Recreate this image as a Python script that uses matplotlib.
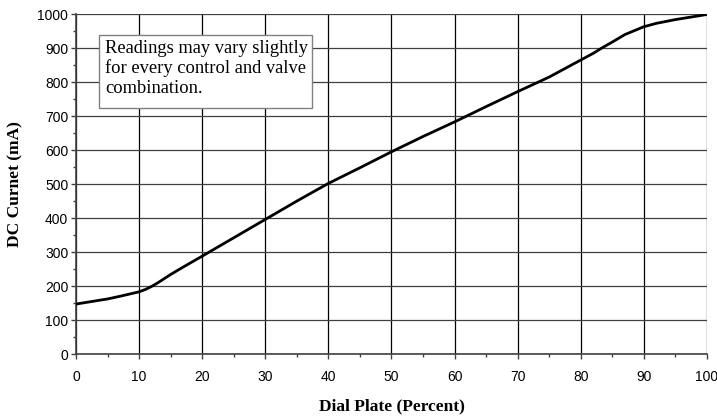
import numpy as np
import matplotlib.pyplot as plt
from matplotlib.patches import Rectangle
from matplotlib.ticker import MultipleLocator

# Dial plate percent vs DC current
dial_pct = [0, 2, 5, 7, 10, 11, 12, 13, 14, 15, 17, 20, 25, 30, 35, 40,
            45, 50, 55, 60, 65, 70, 75, 78, 80, 82, 83.3, 85, 87, 90, 92,
            95, 98, 100]
current_ma = [147, 153, 162, 170, 183, 190, 199, 210, 222, 234, 256, 288,
              342, 396, 450, 502, 548, 595, 640, 683, 728, 772, 815, 845,
              865, 885, 900, 918, 940, 963, 973, 984, 993, 999]

x_ticks = np.arange(0, 101, 10)
y_ticks = np.arange(0, 1001, 100)

note = "Readings may vary slightly\nfor every control and valve\ncombination."

fig = plt.figure(figsize=(7.17, 4.16), dpi=100)
ax = fig.add_axes([0.106, 0.149, 0.880, 0.817])

ax.plot(dial_pct, current_ma, color="black", linewidth=2.0, zorder=3)

ax.set_xlim(0, 100)
ax.set_ylim(0, 1000)
ax.set_xticks(x_ticks)
ax.set_yticks(y_ticks)
ax.xaxis.set_minor_locator(MultipleLocator(5))
ax.yaxis.set_minor_locator(MultipleLocator(50))

ax.grid(True, axis="x", which="major", color="black", linewidth=0.9)
ax.grid(True, axis="y", which="major", color="#404040", linewidth=0.9)

for side in ("top", "right"):
    ax.spines[side].set_visible(False)
for side in ("left", "bottom"):
    ax.spines[side].set_color("#404040")
    ax.spines[side].set_linewidth(1.2)

ax.tick_params(which="major", length=3.5, width=1, color="#404040",
               labelsize=10)
ax.tick_params(which="minor", length=2.5, width=1, color="#404040")
ax.tick_params(axis="y", which="major", pad=2)
ax.tick_params(axis="x", which="major", pad=8)
for lab in ax.get_xticklabels() + ax.get_yticklabels():
    lab.set_fontfamily("Liberation Sans")

ax.set_xlabel("Dial Plate (Percent)", fontfamily="Liberation Serif",
              fontweight="bold", fontsize=12.5)
ax.set_ylabel("DC Curnet (mA)", fontfamily="Liberation Serif",
              fontweight="bold", fontsize=12.5)
ax.xaxis.set_label_coords(0.5, -0.13)
ax.yaxis.set_label_coords(-0.084, 0.5)

# note box
ax.add_patch(Rectangle((0.0365, 0.7235), 0.3375, 0.2145,
                       transform=ax.transAxes, facecolor="white",
                       edgecolor="#808080", linewidth=1, zorder=5))
ax.text(0.046, 0.925, note, transform=ax.transAxes, ha="left", va="top",
        fontfamily="Liberation Serif", fontsize=13.3, linespacing=1.2,
        zorder=6)

fig.savefig("out.png", dpi=100)
